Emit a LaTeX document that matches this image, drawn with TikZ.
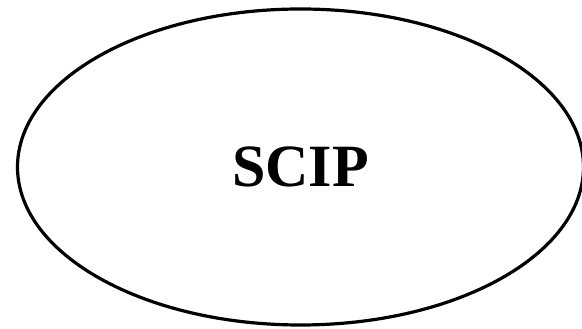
\documentclass[tikz,border=0pt]{standalone}
\usepackage{fontspec}
\setmainfont{Liberation Serif}
\usetikzlibrary{
  positioning,
  shapes.geometric
}

\begin{document}
\begin{tikzpicture}[
  x=1pt, y=1pt,
  every node/.style={font=\bfseries\fontsize{60}{72}\selectfont},
  blob/.style={draw, ellipse, line width=3.2pt, inner sep=0pt,
    minimum width=566pt, minimum height=316pt}
]
\useasboundingbox (0,0) rectangle (582,329);

% the one ellipse
\node[blob] (scip) at (300.5,162) {};
\node (scipText) at (scip.center) {SCIP};

\end{tikzpicture}
\end{document}
